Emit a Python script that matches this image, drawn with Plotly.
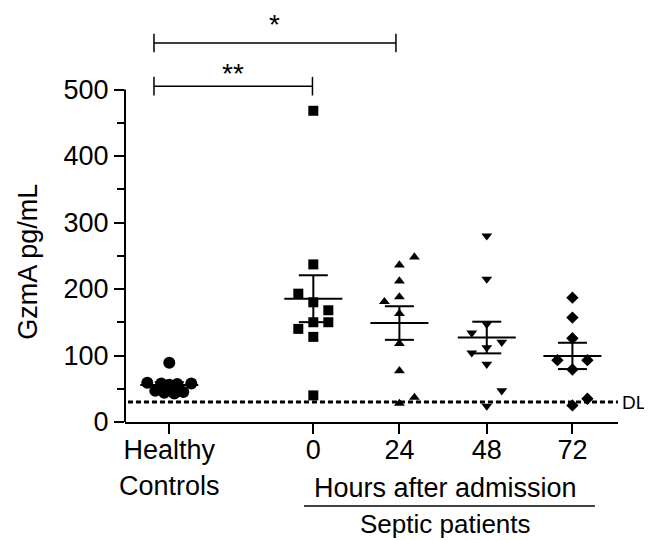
import numpy as np
import plotly.graph_objects as go

# ---------------- data ----------------
group_labels = ["Healthy<br>Controls", "0", "24", "48", "72"]

hc_values = [89, 59, 58, 58, 57, 56, 47, 45, 44, 43]
h0_values = [468, 237, 193, 180, 168, 150, 150, 140, 128, 40]
h24_values = [248, 236, 212, 188, 181, 163, 118, 77, 37, 28]
h48_values = [280, 215, 147, 134, 120, 112, 104, 87, 47, 24]
h72_values = [187, 157, 126, 93, 93, 79, 35, 25]

detection_limit = 30
y_tick_values = [0, 100, 200, 300, 400, 500]
y_minor_values = [50, 150, 250, 350, 450]

# ---------------- layout helpers (positions / jitter, not data) ----------------
PX = 86.5  # pixels per x unit
positions = [0.0, 1.665, 2.66, 3.67, 4.66]
hc_off = [0, -22, 22, -8, 8, 0, -14, 14, -5, 5]
h0_off = [0, 0, -15, 0, 15, 15, 0, -15, 0, 0]
h24_off = [15, 0, 0, 0, -15, 0, 0, 0, 15, 0]
h48_off = [0, 0, 0, -15, 15, 0, -15, 0, 15, 0]
h72_off = [0, 0, 0, -15, 15, 0, 15, 0]

groups = [
    (hc_values, hc_off, "circle", 12),
    (h0_values, h0_off, "square", 10),
    (h24_values, h24_off, "triangle-up", 9.5),
    (h48_values, h48_off, "triangle-down", 9.5),
    (h72_values, h72_off, "diamond", 9.5),
]

FONT = "Arial, Liberation Sans, sans-serif"
PAGE_MARGIN = 8  # default body margin of the html page
fig = go.Figure()

for pos, (vals, offs, sym, size) in zip(positions, groups):
    v = np.array(vals, dtype=float)
    xs = [pos + o / PX for o in offs]
    fig.add_trace(go.Scatter(
        x=xs, y=v, mode="markers",
        marker=dict(symbol=sym, size=size, color="black", line=dict(width=0)),
        cliponaxis=False, showlegend=False, hoverinfo="y"))
    m = v.mean()
    sem = v.std(ddof=1) / np.sqrt(len(v))
    hw, cw = 29 / PX, 14.5 / PX
    ex = [pos - hw, pos + hw, None, pos - cw, pos + cw, None, pos - cw, pos + cw, None, pos, pos]
    ey = [m, m, None, m + sem, m + sem, None, m - sem, m - sem, None, m - sem, m + sem]
    fig.add_trace(go.Scatter(x=ex, y=ey, mode="lines", line=dict(color="black", width=2),
                             showlegend=False, hoverinfo="skip", cliponaxis=False))

shapes = []
# y axis line (only up to 500)
shapes.append(dict(type="line", xref="paper", x0=0, x1=0, yref="y", y0=0, y1=500,
                   line=dict(color="black", width=2)))
# detection limit
shapes.append(dict(type="line", xref="paper", x0=0.006, x1=1.0, yref="y",
                   y0=detection_limit, y1=detection_limit,
                   line=dict(color="black", width=3, dash="5px,3px")))
# significance brackets
def bracket(x0, x1, y, h):
    return [
        dict(type="line", xref="x", yref="y", x0=x0, x1=x1, y0=y, y1=y, line=dict(color="black", width=1.5)),
        dict(type="line", xref="x", yref="y", x0=x0, x1=x0, y0=y - h, y1=y + h, line=dict(color="black", width=1.5)),
        dict(type="line", xref="x", yref="y", x0=x1, x1=x1, y0=y - h, y1=y + h, line=dict(color="black", width=1.5)),
    ]
shapes += bracket(positions[0] - 0.177, positions[2] - 0.04, 570, 14)
shapes += bracket(positions[0] - 0.177, positions[1] - 0.01, 505, 14)
# line under "Hours after admission"
shapes.append(dict(type="line", xref="x", yref="paper", x0=positions[1] - 0.108, x1=positions[4] + 0.26,
                   y0=-0.2105, y1=-0.2105, line=dict(color="black", width=1.5)))

annotations = [
    dict(text="*", x=(positions[0] - 0.177 + positions[2] - 0.04) / 2, y=598, xref="x", yref="y",
         showarrow=False, font=dict(size=28, color="black", family=FONT), yanchor="middle"),
    dict(text="**", x=(positions[0] - 0.177 + positions[1] - 0.01) / 2, y=524, xref="x", yref="y",
         showarrow=False, font=dict(size=28, color="black", family=FONT), yanchor="middle"),
    dict(text="DL", x=1.005, y=detection_limit, xref="paper", yref="y", xanchor="left", yanchor="middle",
         showarrow=False, font=dict(size=19, color="black", family=FONT)),
    dict(text="Hours after admission", x=(positions[1] + positions[4]) / 2 + 0.03, y=-0.165,
         xref="x", yref="paper", showarrow=False, yanchor="middle",
         font=dict(size=27, color="black", family=FONT)),
    dict(text="Septic patients", x=(positions[1] + positions[4]) / 2 + 0.03, y=-0.256,
         xref="x", yref="paper", showarrow=False, yanchor="middle", borderpad=0,
         font=dict(size=26, color="black", family=FONT)),
    dict(text="GzmA pg/mL", x=-(125 - 28) / 493, y=(422 - 261.7) / 399, xref="paper", yref="paper",
         textangle=-90, showarrow=False, xanchor="center", yanchor="middle",
         font=dict(size=27, color="black", family=FONT)),
]

fig.update_layout(
    width=652 - PAGE_MARGIN, height=540 - PAGE_MARGIN,
    margin=dict(l=125 - PAGE_MARGIN, r=34, t=23 - PAGE_MARGIN, b=118),
    paper_bgcolor="white", plot_bgcolor="white",
    font=dict(family=FONT, color="black", size=27),
    xaxis=dict(range=[-0.512, 5.187], showgrid=False, zeroline=False,
               showline=True, linecolor="black", linewidth=2,
               ticks="outside", ticklen=10, tickwidth=2, tickcolor="black",
               tickvals=positions, ticktext=group_labels, ticklabelstandoff=-7,
               tickfont=dict(size=27, color="black", family=FONT)),
    yaxis=dict(range=[0, 600], showgrid=False, zeroline=False, showline=False,
               ticks="outside", ticklen=10, tickwidth=2, tickcolor="black",
               tickvals=y_tick_values,
               minor=dict(tickvals=y_minor_values, ticks="outside", ticklen=7, tickwidth=2, tickcolor="black"),
               tickfont=dict(size=27, color="black", family=FONT)),
    shapes=shapes,
    annotations=annotations,
    showlegend=False,
)

fig.write_html("out.html")
